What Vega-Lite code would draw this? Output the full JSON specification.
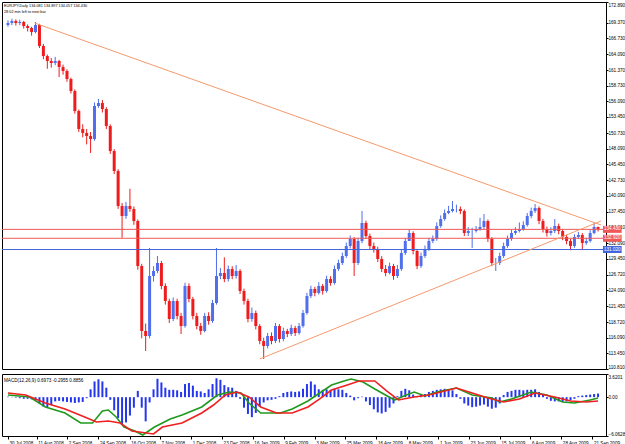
{
"$schema":"https://vega.github.io/schema/vega-lite/v6.json",
"padding":{"left":1,"top":1,"right":0,"bottom":0},
"background":"white",
"spacing":3,
"resolve":{"scale":{"color":"independent"}},
"config":{"font":"Liberation Sans","view":{"stroke":"#000","strokeWidth":1},
"axis":{"labelFont":"Liberation Sans","labelFontSize":4.6,"labelColor":"#000","domainColor":"#000","tickColor":"#000","grid":false,"title":null,"labelOverlap":false}},
"datasets":{
"px":[
{"i":0,"o":169.00,"h":169.80,"l":168.70,"c":169.34,"b":0.08},
{"i":2,"o":169.34,"h":170.05,"l":169.00,"c":169.67,"b":0.04},
{"i":4,"o":169.67,"h":169.95,"l":168.90,"c":169.34,"b":-0.08},
{"i":6,"o":169.34,"h":169.90,"l":168.95,"c":169.51,"b":-0.16},
{"i":8,"o":169.51,"h":169.70,"l":168.40,"c":168.83,"b":-0.25},
{"i":10,"o":168.83,"h":169.10,"l":167.90,"c":168.49,"b":-0.25},
{"i":12,"o":168.49,"h":168.70,"l":167.20,"c":167.81,"b":-0.33},
{"i":14,"o":167.81,"h":169.50,"l":167.60,"c":169.00,"b":-0.49},
{"i":16,"o":169.00,"h":169.20,"l":165.10,"c":165.45,"b":-0.98},
{"i":18,"o":165.45,"h":165.80,"l":163.20,"c":163.75,"b":-1.48},
{"i":20,"o":163.75,"h":164.00,"l":161.60,"c":162.91,"b":-1.56},
{"i":22,"o":162.91,"h":163.40,"l":161.80,"c":162.57,"b":-1.23},
{"i":24,"o":162.57,"h":163.60,"l":162.20,"c":162.91,"b":-0.66},
{"i":26,"o":162.91,"h":163.10,"l":160.20,"c":161.89,"b":-0.57},
{"i":28,"o":161.89,"h":162.30,"l":160.60,"c":161.22,"b":-0.66},
{"i":30,"o":161.22,"h":161.50,"l":159.40,"c":159.86,"b":-0.74},
{"i":32,"o":159.86,"h":160.10,"l":157.40,"c":157.83,"b":-0.82},
{"i":34,"o":157.83,"h":158.10,"l":154.00,"c":154.45,"b":-0.90},
{"i":36,"o":154.45,"h":154.70,"l":150.90,"c":151.41,"b":-0.82},
{"i":38,"o":151.41,"h":152.20,"l":150.00,"c":150.73,"b":-0.74},
{"i":40,"o":150.73,"h":151.40,"l":148.80,"c":150.22,"b":-0.16},
{"i":42,"o":150.22,"h":150.90,"l":147.35,"c":149.71,"b":1.23},
{"i":44,"o":149.71,"h":155.90,"l":149.40,"c":155.30,"b":2.46},
{"i":46,"o":155.30,"h":156.50,"l":155.00,"c":155.80,"b":2.79},
{"i":48,"o":155.80,"h":156.30,"l":154.20,"c":154.79,"b":2.46},
{"i":50,"o":154.79,"h":155.10,"l":151.40,"c":151.91,"b":1.48},
{"i":52,"o":151.91,"h":152.20,"l":147.20,"c":147.68,"b":-0.41},
{"i":54,"o":147.68,"h":148.00,"l":143.80,"c":144.30,"b":-2.05},
{"i":56,"o":144.30,"h":144.60,"l":137.90,"c":138.38,"b":-3.28},
{"i":58,"o":138.38,"h":138.90,"l":133.00,"c":136.69,"b":-4.26},
{"i":60,"o":136.69,"h":139.10,"l":136.20,"c":138.38,"b":-3.94},
{"i":62,"o":138.38,"h":141.30,"l":137.40,"c":137.87,"b":-2.87},
{"i":64,"o":137.87,"h":138.30,"l":135.20,"c":135.84,"b":-1.64},
{"i":66,"o":135.84,"h":136.10,"l":127.60,"c":128.23,"b":0.98},
{"i":68,"o":128.23,"h":128.60,"l":116.00,"c":117.24,"b":-1.64},
{"i":70,"o":117.24,"h":118.50,"l":113.85,"c":116.39,"b":-3.77},
{"i":72,"o":116.39,"h":131.28,"l":116.00,"c":126.54,"b":-0.82},
{"i":74,"o":126.54,"h":128.20,"l":125.60,"c":127.39,"b":1.23},
{"i":76,"o":127.39,"h":129.92,"l":127.00,"c":128.74,"b":2.87},
{"i":78,"o":128.74,"h":129.10,"l":124.30,"c":124.85,"b":2.30},
{"i":80,"o":124.85,"h":125.30,"l":121.70,"c":122.31,"b":1.48},
{"i":82,"o":122.31,"h":122.70,"l":118.60,"c":119.27,"b":1.15},
{"i":84,"o":119.27,"h":122.90,"l":118.90,"c":122.31,"b":1.15},
{"i":86,"o":122.31,"h":122.70,"l":119.20,"c":119.77,"b":1.07},
{"i":88,"o":119.77,"h":120.30,"l":116.73,"c":118.08,"b":0.82},
{"i":90,"o":118.08,"h":125.40,"l":117.80,"c":124.85,"b":2.05},
{"i":92,"o":124.85,"h":125.30,"l":122.10,"c":122.65,"b":2.21},
{"i":94,"o":122.65,"h":123.00,"l":119.20,"c":119.77,"b":1.80},
{"i":96,"o":119.77,"h":120.30,"l":117.50,"c":118.08,"b":0.98},
{"i":98,"o":118.08,"h":118.60,"l":116.60,"c":117.24,"b":0.90},
{"i":100,"o":117.24,"h":120.30,"l":117.00,"c":119.77,"b":0.66},
{"i":102,"o":119.77,"h":120.40,"l":118.30,"c":118.93,"b":1.23},
{"i":104,"o":118.93,"h":122.50,"l":118.60,"c":121.97,"b":2.05},
{"i":106,"o":121.97,"h":131.28,"l":121.70,"c":126.54,"b":2.95},
{"i":108,"o":126.54,"h":127.90,"l":126.00,"c":127.05,"b":2.71},
{"i":110,"o":127.05,"h":129.70,"l":125.50,"c":126.03,"b":1.89},
{"i":112,"o":126.03,"h":128.30,"l":125.60,"c":127.73,"b":1.56},
{"i":114,"o":127.73,"h":128.20,"l":126.00,"c":126.54,"b":1.48},
{"i":116,"o":126.54,"h":128.40,"l":126.10,"c":127.39,"b":0.98},
{"i":118,"o":127.39,"h":127.70,"l":123.50,"c":124.00,"b":-0.25},
{"i":120,"o":124.00,"h":124.40,"l":121.70,"c":122.31,"b":-1.64},
{"i":122,"o":122.31,"h":122.70,"l":118.70,"c":119.27,"b":-2.62},
{"i":124,"o":119.27,"h":121.20,"l":118.80,"c":120.28,"b":-3.12},
{"i":126,"o":120.28,"h":120.70,"l":117.50,"c":118.08,"b":-2.46},
{"i":128,"o":118.08,"h":118.40,"l":115.00,"c":115.55,"b":-1.48},
{"i":130,"o":115.55,"h":116.10,"l":112.50,"c":114.70,"b":-0.82},
{"i":132,"o":114.70,"h":116.90,"l":114.30,"c":116.39,"b":-0.49},
{"i":134,"o":116.39,"h":117.00,"l":115.00,"c":115.55,"b":-0.41},
{"i":136,"o":115.55,"h":118.60,"l":115.20,"c":118.08,"b":-0.25},
{"i":138,"o":118.08,"h":118.40,"l":115.30,"c":115.88,"b":0.16},
{"i":140,"o":115.88,"h":117.80,"l":115.50,"c":117.24,"b":0.66},
{"i":142,"o":117.24,"h":117.60,"l":116.20,"c":116.73,"b":0.82},
{"i":144,"o":116.73,"h":118.30,"l":116.40,"c":117.75,"b":0.90},
{"i":146,"o":117.75,"h":118.10,"l":116.40,"c":116.90,"b":0.82},
{"i":148,"o":116.90,"h":118.60,"l":116.60,"c":118.08,"b":0.90},
{"i":150,"o":118.08,"h":120.80,"l":117.80,"c":120.28,"b":1.31},
{"i":152,"o":120.28,"h":123.70,"l":120.00,"c":123.16,"b":2.05},
{"i":154,"o":123.16,"h":124.90,"l":122.80,"c":124.34,"b":2.46},
{"i":156,"o":124.34,"h":124.70,"l":123.10,"c":123.67,"b":1.97},
{"i":158,"o":123.67,"h":125.50,"l":123.40,"c":124.85,"b":1.23},
{"i":160,"o":124.85,"h":125.20,"l":123.40,"c":124.00,"b":1.15},
{"i":162,"o":124.00,"h":126.60,"l":123.70,"c":126.03,"b":1.23},
{"i":164,"o":126.03,"h":126.50,"l":124.90,"c":125.36,"b":1.15},
{"i":166,"o":125.36,"h":128.30,"l":125.10,"c":127.73,"b":1.31},
{"i":168,"o":127.73,"h":129.30,"l":127.40,"c":128.74,"b":1.23},
{"i":170,"o":128.74,"h":130.50,"l":128.40,"c":129.92,"b":1.15},
{"i":172,"o":129.92,"h":132.20,"l":129.60,"c":131.62,"b":0.66},
{"i":174,"o":131.62,"h":133.40,"l":131.20,"c":132.80,"b":0.25},
{"i":176,"o":132.80,"h":133.10,"l":126.54,"c":128.74,"b":-0.49},
{"i":178,"o":128.74,"h":133.00,"l":128.40,"c":132.46,"b":-0.16},
{"i":180,"o":132.46,"h":137.54,"l":132.10,"c":135.51,"b":0.08},
{"i":182,"o":135.51,"h":135.90,"l":132.80,"c":133.31,"b":-0.66},
{"i":184,"o":133.31,"h":133.70,"l":131.00,"c":131.62,"b":-1.23},
{"i":186,"o":131.62,"h":132.20,"l":130.50,"c":131.11,"b":-1.89},
{"i":188,"o":131.11,"h":131.50,"l":128.90,"c":129.42,"b":-2.38},
{"i":190,"o":129.42,"h":129.90,"l":127.20,"c":127.73,"b":-2.54},
{"i":192,"o":127.73,"h":128.40,"l":126.50,"c":127.05,"b":-2.30},
{"i":194,"o":127.05,"h":128.80,"l":126.80,"c":128.23,"b":-1.64},
{"i":196,"o":128.23,"h":128.60,"l":125.90,"c":126.54,"b":-0.98},
{"i":198,"o":126.54,"h":128.40,"l":126.20,"c":127.73,"b":0.16},
{"i":200,"o":127.73,"h":131.00,"l":127.40,"c":130.43,"b":0.98},
{"i":202,"o":130.43,"h":133.00,"l":130.10,"c":132.46,"b":1.31},
{"i":204,"o":132.46,"h":134.49,"l":133.00,"c":133.81,"b":1.07},
{"i":206,"o":133.81,"h":134.10,"l":130.20,"c":130.77,"b":0.41},
{"i":208,"o":130.77,"h":131.10,"l":127.70,"c":128.23,"b":0.16},
{"i":210,"o":128.23,"h":130.50,"l":127.90,"c":129.92,"b":0.33},
{"i":212,"o":129.92,"h":131.70,"l":129.60,"c":131.11,"b":0.49},
{"i":214,"o":131.11,"h":133.00,"l":130.80,"c":132.46,"b":0.82},
{"i":216,"o":132.46,"h":133.40,"l":132.10,"c":132.80,"b":0.98},
{"i":218,"o":132.80,"h":135.60,"l":132.50,"c":135.00,"b":1.15},
{"i":220,"o":135.00,"h":136.80,"l":134.70,"c":136.18,"b":1.23},
{"i":222,"o":136.18,"h":137.80,"l":135.90,"c":137.20,"b":1.31},
{"i":224,"o":137.20,"h":138.40,"l":137.00,"c":137.54,"b":1.15},
{"i":226,"o":137.54,"h":139.23,"l":137.30,"c":137.87,"b":1.07},
{"i":228,"o":137.87,"h":138.60,"l":137.30,"c":137.87,"b":0.49},
{"i":230,"o":137.87,"h":138.30,"l":137.00,"c":137.54,"b":-0.25},
{"i":232,"o":137.54,"h":137.80,"l":133.30,"c":133.81,"b":-0.98},
{"i":234,"o":133.81,"h":134.80,"l":133.30,"c":134.15,"b":-1.31},
{"i":236,"o":134.15,"h":134.70,"l":131.28,"c":134.15,"b":-1.56},
{"i":238,"o":134.15,"h":135.00,"l":133.90,"c":134.49,"b":-1.48},
{"i":240,"o":134.49,"h":136.40,"l":134.20,"c":134.83,"b":-1.31},
{"i":242,"o":134.83,"h":137.03,"l":134.50,"c":135.84,"b":-1.15},
{"i":244,"o":135.84,"h":136.10,"l":132.30,"c":132.80,"b":-1.48},
{"i":246,"o":132.80,"h":133.10,"l":128.20,"c":128.74,"b":-1.80},
{"i":248,"o":128.74,"h":129.60,"l":127.39,"c":128.74,"b":-1.64},
{"i":250,"o":128.74,"h":130.50,"l":128.40,"c":129.92,"b":-0.98},
{"i":252,"o":129.92,"h":132.20,"l":129.60,"c":131.62,"b":0.33},
{"i":254,"o":131.62,"h":133.40,"l":131.30,"c":132.80,"b":0.82},
{"i":256,"o":132.80,"h":134.40,"l":132.50,"c":133.81,"b":0.98},
{"i":258,"o":133.81,"h":134.80,"l":133.50,"c":134.15,"b":1.15},
{"i":260,"o":134.15,"h":135.60,"l":133.90,"c":134.49,"b":1.15},
{"i":262,"o":134.49,"h":135.80,"l":134.20,"c":135.17,"b":1.07},
{"i":264,"o":135.17,"h":137.20,"l":134.90,"c":136.69,"b":1.15},
{"i":266,"o":136.69,"h":138.10,"l":136.30,"c":137.54,"b":1.15},
{"i":268,"o":137.54,"h":138.72,"l":137.20,"c":138.04,"b":1.23},
{"i":270,"o":138.04,"h":138.30,"l":135.30,"c":135.84,"b":0.82},
{"i":272,"o":135.84,"h":136.20,"l":133.90,"c":134.49,"b":0.41},
{"i":274,"o":134.49,"h":134.90,"l":133.20,"c":133.81,"b":-0.25},
{"i":276,"o":133.81,"h":134.80,"l":133.40,"c":134.15,"b":-0.57},
{"i":278,"o":134.15,"h":136.18,"l":133.80,"c":135.00,"b":-0.66},
{"i":280,"o":135.00,"h":135.40,"l":133.60,"c":134.15,"b":-0.66},
{"i":282,"o":134.15,"h":134.50,"l":132.60,"c":133.14,"b":-0.74},
{"i":284,"o":133.14,"h":133.50,"l":131.90,"c":132.46,"b":-0.66},
{"i":286,"o":132.46,"h":132.80,"l":130.90,"c":131.62,"b":-0.49},
{"i":288,"o":131.62,"h":133.60,"l":131.30,"c":133.14,"b":-0.25},
{"i":290,"o":133.14,"h":134.00,"l":132.80,"c":133.48,"b":0.16},
{"i":292,"o":133.48,"h":133.80,"l":130.95,"c":132.12,"b":0.25},
{"i":294,"o":132.12,"h":133.00,"l":131.80,"c":132.46,"b":0.33},
{"i":296,"o":132.46,"h":134.30,"l":132.20,"c":133.81,"b":0.41},
{"i":298,"o":133.81,"h":135.51,"l":133.60,"c":134.83,"b":0.49},
{"i":300,"o":134.83,"h":134.90,"l":134.06,"c":134.43,"b":0.57}
],
"macd":[
{"i":0,"v":0.34,"k":"m"},{"i":11,"v":0.03,"k":"m"},{"i":19,"v":-1.53,"k":"m"},{"i":29,"v":-2.47,"k":"m"},{"i":37,"v":-4.03,"k":"m"},{"i":43,"v":-4.03,"k":"m"},{"i":48,"v":-2.16,"k":"m"},{"i":51,"v":-2.0,"k":"m"},{"i":55,"v":-3.09,"k":"m"},{"i":59,"v":-4.66,"k":"m"},{"i":64.5,"v":-5.28,"k":"m"},{"i":68.5,"v":-5.91,"k":"m"},{"i":74.5,"v":-4.66,"k":"m"},{"i":82.5,"v":-3.41,"k":"m"},{"i":88.5,"v":-2.78,"k":"m"},{"i":98.5,"v":-1.53,"k":"m"},{"i":106.5,"v":0.34,"k":"m"},{"i":112.5,"v":0.81,"k":"m"},{"i":118.5,"v":0.65,"k":"m"},{"i":122.5,"v":-0.91,"k":"m"},{"i":128.5,"v":-2.47,"k":"m"},{"i":138.5,"v":-2.47,"k":"m"},{"i":144.5,"v":-1.85,"k":"m"},{"i":152.5,"v":-0.6,"k":"m"},{"i":158.5,"v":0.65,"k":"m"},{"i":164.5,"v":1.9,"k":"m"},{"i":172.5,"v":2.68,"k":"m"},{"i":174.5,"v":2.84,"k":"m"},{"i":180.5,"v":2.37,"k":"m"},{"i":186.5,"v":1.28,"k":"m"},{"i":196.5,"v":-0.44,"k":"m"},{"i":202.5,"v":0.34,"k":"m"},{"i":206.5,"v":0.81,"k":"m"},{"i":212,"v":0.19,"k":"m"},{"i":218,"v":0.81,"k":"m"},{"i":228,"v":1.43,"k":"m"},{"i":236,"v":0.34,"k":"m"},{"i":246,"v":-0.13,"k":"m"},{"i":250,"v":-0.75,"k":"m"},{"i":256,"v":-0.28,"k":"m"},{"i":266,"v":0.81,"k":"m"},{"i":274,"v":0.34,"k":"m"},{"i":282,"v":-0.75,"k":"m"},{"i":288,"v":-0.91,"k":"m"},{"i":296,"v":-0.44,"k":"m"},{"i":300,"v":-0.13,"k":"m"},
{"i":0,"v":0.65,"k":"s"},{"i":9,"v":0.34,"k":"s"},{"i":19,"v":-0.91,"k":"s"},{"i":29,"v":-1.85,"k":"s"},{"i":39,"v":-3.09,"k":"s"},{"i":45,"v":-3.88,"k":"s"},{"i":51,"v":-3.72,"k":"s"},{"i":57,"v":-4.03,"k":"s"},{"i":63,"v":-5.28,"k":"s"},{"i":74,"v":-5.75,"k":"s"},{"i":78.5,"v":-4.66,"k":"s"},{"i":88.5,"v":-4.03,"k":"s"},{"i":98.5,"v":-2.47,"k":"s"},{"i":104.5,"v":-1.22,"k":"s"},{"i":110.5,"v":0.34,"k":"s"},{"i":116.5,"v":0.81,"k":"s"},{"i":122.5,"v":0.03,"k":"s"},{"i":128.5,"v":-1.53,"k":"s"},{"i":136.5,"v":-2.47,"k":"s"},{"i":144.5,"v":-2.47,"k":"s"},{"i":152.5,"v":-1.53,"k":"s"},{"i":158.5,"v":-0.28,"k":"s"},{"i":164.5,"v":1.12,"k":"s"},{"i":172.5,"v":1.9,"k":"s"},{"i":178.5,"v":2.53,"k":"s"},{"i":186.5,"v":2.53,"k":"s"},{"i":192.5,"v":0.97,"k":"s"},{"i":198.5,"v":-0.44,"k":"s"},{"i":206.5,"v":0.03,"k":"s"},{"i":214,"v":0.34,"k":"s"},{"i":222,"v":0.97,"k":"s"},{"i":228,"v":1.43,"k":"s"},{"i":236,"v":0.65,"k":"s"},{"i":244,"v":-0.13,"k":"s"},{"i":252,"v":-0.75,"k":"s"},{"i":260,"v":-0.28,"k":"s"},{"i":268,"v":0.65,"k":"s"},{"i":278,"v":0.03,"k":"s"},{"i":286,"v":-0.6,"k":"s"},{"i":294,"v":-0.75,"k":"s"},{"i":300,"v":-0.6,"k":"s"}
],
"lv":[{"p":134.43,"t":"134.430","k":"r"},{"p":132.92,"t":"132.920","k":"r"},{"p":131.02,"t":"131.020","k":"b"}],
"tl":[{"i":13.5,"p":169.34,"n":"u"},{"i":301.5,"p":135.17,"n":"u"},{"i":128,"p":112.5,"n":"d"},{"i":301.5,"p":135.84,"n":"d"}]
},
"vconcat":[
{
"width":604,"height":367,
"title":{"text":"EURJPY,Daily  134.081 134.897 134.057 134.430","subtitle":"28:02 min left to next bar","anchor":"start","frame":"group","offset":-12,"dx":2,"font":"Liberation Sans","fontSize":3.8,"fontWeight":"normal","color":"#000","subtitleFont":"Liberation Sans","subtitleFontSize":3.8,"subtitleColor":"#000","subtitlePadding":1.5},
"layer":[
{"data":{"name":"px"},"mark":{"type":"rule","strokeWidth":1},
"encoding":{"x":{"field":"i","type":"quantitative","scale":{"domain":[-0.5,301.5],"nice":false,"zero":false},"axis":null},
"y":{"field":"l","type":"quantitative","scale":{"domain":[110.81,172.89],"nice":false,"zero":false},
"axis":{"orient":"right","values":[172.89,169.37,166.73,164.09,161.37,158.73,156.09,153.45,150.73,148.09,145.45,142.73,140.09,137.45,134.81,132.09,129.45,126.72,124.09,121.45,118.72,116.09,113.45,110.81],"tickCount":100,"format":".3f","labelFlush":true,"labelOverlap":false,"tickSize":2,"labelPadding":0}},
"y2":{"field":"h"},
"color":{"condition":{"test":"datum.c>=datum.o","value":"#4f6fec"},"value":"#ee1c1c"}}},
{"data":{"name":"px"},"mark":{"type":"bar","width":3},
"encoding":{"x":{"field":"i","type":"quantitative"},"y":{"field":"o","type":"quantitative"},"y2":{"field":"c"},
"color":{"condition":{"test":"datum.c>=datum.o","value":"#4f6fec"},"value":"#ee1c1c"}}},
{"data":{"name":"lv"},"mark":{"type":"rule","strokeWidth":1},
"encoding":{"y":{"field":"p","type":"quantitative"},"color":{"field":"k","type":"nominal","scale":{"domain":["r","b"],"range":["#f05858","#4466dd"]},"legend":null}}},
{"data":{"name":"tl"},"mark":{"type":"line","color":"#f59a6e","strokeWidth":1},
"encoding":{"x":{"field":"i","type":"quantitative"},"y":{"field":"p","type":"quantitative"},"detail":{"field":"n"}}},
{"data":{"name":"lv"},"mark":{"type":"rule","strokeWidth":7,"strokeCap":"butt"},
"encoding":{"x":{"datum":302.5},"x2":{"datum":312},"y":{"field":"p","type":"quantitative"},"color":{"field":"k","type":"nominal","scale":{"domain":["r","b"],"range":["#f05858","#4466dd"]},"legend":null}}},
{"data":{"name":"lv"},"mark":{"type":"text","align":"left","baseline":"middle","fontSize":4.6,"color":"#fff","font":"Liberation Sans"},
"encoding":{"x":{"datum":303},"y":{"field":"p","type":"quantitative"},"text":{"field":"t"}}}
]
},
{
"width":604,"height":62,
"title":{"text":"MACD(12,26,9) 0.6973 -0.2955 0.8856","anchor":"start","frame":"group","offset":-9,"dx":2,"font":"Liberation Sans","fontSize":4.6,"fontWeight":"normal","color":"#000"},
"layer":[
{"data":{"name":"px"},"mark":{"type":"bar","width":2,"color":"#2436ee"},
"encoding":{"x":{"field":"i","type":"quantitative","scale":{"domain":[-0.5,301.5],"nice":false,"zero":false},
"axis":{"orient":"bottom","values":[0,14.65,30.15,46,61.85,77.35,93.15,108.85,124.5,140.15,156,171.5,187.35,203,218.85,234.35,250.15,265.65,281.35,297.15],"tickCount":100,
"labelExpr":"['30 Jul 2008','11 Aug 2008','2 Sep 2008','24 Sep 2008','16 Oct 2008','7 Nov 2008','1 Dec 2008','23 Dec 2008','16 Jan 2009','9 Feb 2009','3 Mar 2009','25 Mar 2009','16 Apr 2009','8 May 2009','1 Jun 2009','23 Jun 2009','15 Jul 2009','6 Aug 2009','28 Aug 2009','21 Sep 2009'][indexof([0,14.65,30.15,46,61.85,77.35,93.15,108.85,124.5,140.15,156,171.5,187.35,203,218.85,234.35,250.15,265.65,281.35,297.15],datum.value)]",
"labelAlign":"left","labelOffset":1,"tickSize":3,"labelPadding":1,"labelFontSize":4.6,"labelOverlap":false,"domain":false}},
"y":{"field":"b","type":"quantitative","scale":{"domain":[-6.0628,3.6201],"nice":false,"zero":false},
"axis":{"orient":"right","values":[3.6201,0,-6.0628],"tickCount":10,"labelExpr":"datum.value==0?'0.00':format(datum.value,'.4f')","labelFlush":true,"labelOverlap":false,"tickSize":2,"labelPadding":0}},
"y2":{"datum":0}}},
{"data":{"name":"macd"},"mark":{"type":"line","strokeWidth":1.6},
"encoding":{"x":{"field":"i","type":"quantitative"},"y":{"field":"v","type":"quantitative"},
"color":{"field":"k","type":"nominal","scale":{"domain":["m","s"],"range":["#1f9a1f","#ee2020"]},"legend":null},"order":{"field":"i"}}}
]
}
]
}
